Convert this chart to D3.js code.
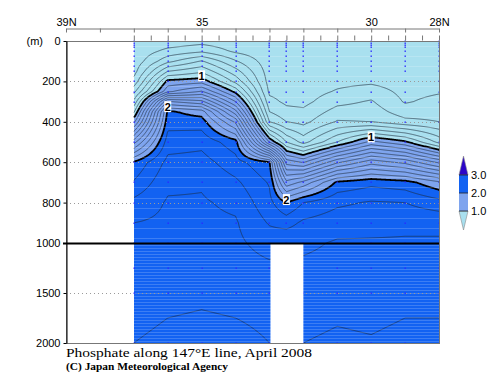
<!DOCTYPE html>
<html>
<head>
<meta charset="utf-8">
<script src="https://d3js.org/d3.v7.min.js"></script>
<style>
  body { margin: 0; background: #fff; }
  text { font-family: "Liberation Sans", Arial, sans-serif; }
</style>
</head>
<body>
<script>

// stations (deg N) and standard depths (m)
var lats   = [37, 36, 35, 34, 33, 32.5, 32, 31, 30, 29, 28];
var depths = [0, 50, 100, 150, 200, 250, 300, 350, 400, 500, 600, 700, 800, 900, 1000, 1250, 1500, 1750, 2000];

// phosphate (umol/kg), one row per depth, columns follow lats
var p0    = [0.32, 0.33, 0.36, 0.33, 0.32, 0.32, 0.32, 0.32, 0.32, 0.32, 0.32];
var p50   = [0.32, 0.43, 0.48, 0.38, 0.33, 0.33, 0.32, 0.32, 0.32, 0.32, 0.32];
var p100  = [0.33, 0.57, 0.71, 0.51, 0.34, 0.33, 0.33, 0.33, 0.33, 0.32, 0.32];
var p150  = [0.36, 0.80, 0.88, 0.64, 0.35, 0.34, 0.33, 0.34, 0.35, 0.33, 0.34];
var p200  = [0.43, 1.03, 1.06, 0.77, 0.36, 0.35, 0.34, 0.37, 0.38, 0.35, 0.37];
var p250  = [0.57, 1.18, 1.31, 0.97, 0.38, 0.36, 0.35, 0.41, 0.45, 0.37, 0.39];
var p300  = [0.72, 1.71, 1.63, 1.20, 0.43, 0.38, 0.37, 0.47, 0.51, 0.39, 0.43];
var p350  = [0.88, 2.02, 1.95, 1.44, 0.50, 0.43, 0.42, 0.54, 0.55, 0.45, 0.46];
var p400  = [1.07, 2.06, 2.05, 1.68, 0.60, 0.50, 0.47, 0.61, 0.60, 0.53, 0.50];
var p500  = [1.56, 2.15, 2.17, 2.04, 1.09, 0.80, 0.66, 0.90, 1.13, 1.02, 0.77];
var p600  = [2.01, 2.23, 2.24, 2.14, 2.01, 1.26, 1.19, 1.48, 1.66, 1.57, 1.38];
var p700  = [2.11, 2.28, 2.29, 2.22, 2.09, 1.63, 1.73, 2.02, 2.07, 2.04, 1.92];
var p800  = [2.23, 2.31, 2.31, 2.28, 2.13, 2.00, 2.10, 2.18, 2.21, 2.20, 2.14];
var p900  = [2.30, 2.32, 2.32, 2.31, 2.19, 2.16, 2.22, 2.26, 2.27, 2.28, 2.28];
var p1000 = [2.31, 2.33, 2.33, 2.32, 2.26, 2.29, 2.28, 2.31, 2.31, 2.31, 2.31];
var p1250 = [2.33, 2.35, 2.35, 2.34, 2.32, null, 2.32, 2.33, 2.33, 2.34, 2.34];
var p1500 = [2.36, 2.37, 2.38, 2.37, 2.35, null, 2.35, 2.36, 2.36, 2.37, 2.37];
var p1750 = [2.38, 2.40, 2.41, 2.40, 2.38, null, 2.37, 2.39, 2.38, 2.40, 2.40];
var p2000 = [2.40, 2.42, 2.43, 2.43, 2.40, null, 2.40, 2.42, 2.41, 2.43, 2.44];
var rows = [p0, p50, p100, p150, p200, p250, p300, p350, p400, p500, p600, p700,
            p800, p900, p1000, p1250, p1500, p1750, p2000];

// sampled depths (observation points)
var sampleDepths = [0, 10, 20, 30, 50, 75, 100, 125, 150, 200, 250, 300, 400, 500,
                    600, 700, 800, 900, 1000, 1250, 1500, 2000];

// shading levels / colours, contour labels
var shadeLevels = [1, 2, 3];
var shadeColors = ["#a9e0ef", "#7ea4ee", "#1262f2", "#2c06c8"];
var lineLevels = d3.range(1, 30).map(function(k) { return k / 10; });
var contourLabels = [
  {lat: 35, depth: 172, text: "1"},
  {lat: 30, depth: 475, text: "1"},
  {lat: 36, depth: 325, text: "2"},
  {lat: 32.5, depth: 785, text: "2"}
];
var latTicks = [39, 38, 37, 36, 35, 34, 33, 32, 31, 30, 29, 28];
var latLabels = {39: "39N", 35: "35", 30: "30", 28: "28N"};
var depthTicks = [0, 200, 400, 600, 800, 1000, 1500, 2000];
var gridDepths = [200, 400, 600, 800, 1500];

var W = 500, H = 387;
var svg = d3.select("body").append("svg")
    .attr("width", W)
    .attr("height", H);

var x = d3.scaleLinear().domain([39, 28]).range([66, 439]);
var y = d3.scaleLinear().domain([0, 1000, 2000]).range([41, 243, 343]);

// value along one depth row, skipping missing stations
function rowValue(j, lat) {
  var xs = [], vs = [];
  rows[j].forEach(function(v, i) { if (v != null) { xs.push(lats[i]); vs.push(v); } });
  for (var i = 0; i < xs.length - 1; i++) {
    if (lat <= xs[i] && lat >= xs[i + 1]) {
      var t = (xs[i] - lat) / (xs[i] - xs[i + 1]);
      return vs[i] + t * (vs[i + 1] - vs[i]);
    }
  }
  return lat > xs[0] ? vs[0] : vs[vs.length - 1];
}
function valueAt(lat, dep) {
  var j = d3.bisectRight(depths, dep) - 1;
  if (j < 0) j = 0;
  if (j >= depths.length - 1) j = depths.length - 2;
  var t = (dep - depths[j]) / (depths[j + 1] - depths[j]);
  t = Math.max(0, Math.min(1, t));
  return rowValue(j, lat) * (1 - t) + rowValue(j + 1, lat) * t;
}

var x0 = Math.round(x(lats[0])), x1 = Math.round(x(lats[lats.length - 1]));
var y0 = Math.round(y(0)), y1 = Math.round(y(2000));
var nx = x1 - x0, ny = y1 - y0;
var grid = new Array(nx * ny);
for (var j = 0; j < ny; j++) {
  for (var i = 0; i < nx; i++) {
    grid[j * nx + i] = valueAt(x.invert(x0 + i + 0.5), y.invert(y0 + j + 0.5));
  }
}

var plot = svg.append("g");
var cg = plot.append("g").attr("transform", "translate(" + x0 + "," + y0 + ")");
var path = d3.geoPath();

// shading
cg.append("rect").attr("width", nx).attr("height", ny).attr("fill", shadeColors[0]);
var bands = d3.contours().size([nx, ny]).thresholds(shadeLevels)(grid);
cg.selectAll("path.band")
  .data(bands)
  .enter().append("path")
    .attr("class", "band")
    .attr("d", path)
    .attr("fill", function(d, i) { return shadeColors[i + 1]; });

// faint horizontal banding of the original raster
var stripes = d3.range(25, 1000, 50).concat(d3.range(1015, 2000, 30));
plot.selectAll("line.stripe")
  .data(stripes)
  .enter().append("line")
    .attr("x1", x0).attr("x2", x1)
    .attr("y1", function(d) { return Math.round(y(d)) + 0.5; })
    .attr("y2", function(d) { return Math.round(y(d)) + 0.5; })
    .attr("stroke", "#fff")
    .attr("stroke-opacity", 0.18);

// dotted depth grid
plot.selectAll("line.grid")
  .data(gridDepths)
  .enter().append("line")
    .attr("x1", x(39)).attr("x2", x(28))
    .attr("y1", function(d) { return Math.round(y(d)) + 0.5; })
    .attr("y2", function(d) { return Math.round(y(d)) + 0.5; })
    .attr("stroke", "#9a9a9a")
    .attr("stroke-dasharray", "1,3");

// contour lines (drop the pieces that run along the grid edge)
function onEdge(p) { return p[0] <= 0 || p[0] >= nx || p[1] <= 0 || p[1] >= ny; }
function ringPieces(ring) {
  var out = [], cur = [];
  for (var k = 1; k < ring.length; k++) {
    var a = ring[k - 1], b = ring[k];
    if (onEdge(a) && onEdge(b)) { if (cur.length) { out.push(cur); cur = []; } continue; }
    if (!cur.length) cur.push(a);
    cur.push(b);
  }
  if (cur.length) out.push(cur);
  return out;
}
var lineGen = d3.line();
var isolines = d3.contours().size([nx, ny]).thresholds(lineLevels)(grid);
isolines.forEach(function(c) {
  var thick = Math.abs(c.value - Math.round(c.value)) < 1e-6;
  c.coordinates.forEach(function(poly) {
    poly.forEach(function(ring) {
      ringPieces(ring).forEach(function(pc) {
        cg.append("path")
          .attr("d", lineGen(pc))
          .attr("fill", "none")
          .attr("stroke", thick ? "#000" : "#1c2a3a")
          .attr("stroke-opacity", thick ? 1 : 0.8)
          .attr("stroke-width", thick ? 1.8 : 0.8)
          .attr("stroke-linejoin", "round");
      });
    });
  });
});

// observation points
lats.forEach(function(lat, i) {
  var maxDep = d3.max(depths.filter(function(d, j) { return rows[j][i] != null; }));
  var pts = sampleDepths.filter(function(d) { return d <= maxDep; });
  plot.selectAll(null)
    .data(pts)
    .enter().append("rect")
      .attr("x", Math.round(x(lat)) - 0.5)
      .attr("y", function(d) { return Math.round(y(d)) - 0.5; })
      .attr("width", 1.4).attr("height", 1.4)
      .attr("fill", "#2a2aff");
});

// missing deep data -> blank
lats.forEach(function(lat, i) {
  var valid = depths.filter(function(d, j) { return rows[j][i] != null; });
  var maxDep = d3.max(valid);
  if (maxDep < 2000) {
    plot.append("rect")
      .attr("x", x(lats[i - 1]) + 1)
      .attr("y", y(maxDep))
      .attr("width", x(lats[i + 1]) - x(lats[i - 1]) - 1)
      .attr("height", y(2000) - y(maxDep))
      .attr("fill", "#fff");
  }
});

// contour labels
contourLabels.forEach(function(l) {
  var cx = x(l.lat), cy = y(l.depth);
  plot.append("rect")
    .attr("x", cx - 3.5).attr("y", cy - 5.5)
    .attr("width", 7).attr("height", 11)
    .attr("fill", "#fff");
  plot.append("text")
    .attr("x", cx).attr("y", cy + 4)
    .attr("text-anchor", "middle")
    .style("font-size", "11px")
    .style("font-weight", "bold")
    .text(l.text);
});

// frame
svg.append("rect")
  .attr("x", x(39) + 0.5).attr("y", y(0) + 0.5)
  .attr("width", x(28) - x(39)).attr("height", y(2000) - y(0))
  .attr("fill", "none").attr("stroke", "#777");
svg.append("line")
  .attr("x1", x(39) - 3).attr("x2", x(28))
  .attr("y1", y(1000) + 0.5).attr("y2", y(1000) + 0.5)
  .attr("stroke", "#000").attr("stroke-width", 2);

// left axis
var yAxis = d3.axisLeft(y).tickValues(depthTicks).tickSize(3).tickSizeOuter(0).tickPadding(3)
    .tickFormat(d3.format("d"));
var ya = svg.append("g")
    .attr("transform", "translate(" + (x(39) + 0.5) + ",0)")
    .call(yAxis);
ya.selectAll("text").style("font-size", "11px").style("font-family", "Liberation Sans, Arial, sans-serif");
svg.append("text")
    .attr("x", 43).attr("y", y(0) + 4)
    .attr("text-anchor", "end")
    .style("font-size", "11px")
    .text("(m)");

// top axis
var xAxis = d3.axisTop(x).tickValues(latTicks).tickSize(-4).tickSizeOuter(0).tickPadding(3)
    .tickFormat(function(d) { return latLabels[d] || ""; });
var xa = svg.append("g")
    .attr("transform", "translate(0,28.5)")
    .call(xAxis);
xa.select(".domain").attr("stroke", "#777");
xa.selectAll(".tick line").attr("stroke", "#777");
xa.selectAll("text").style("font-size", "11px").style("font-family", "Liberation Sans, Arial, sans-serif");

// station marks on top of frame
var sAxis = d3.axisTop(x).tickValues(d3.range(28, 37.01, 0.5)).tickSize(5).tickFormat("");
var sa = svg.append("g")
    .attr("transform", "translate(0,40.5)")
    .call(sAxis);
sa.select(".domain").remove();
sa.selectAll(".tick line").attr("stroke", "#777");

// colour bar
var cb = d3.scaleLinear().domain([1, 3]).range([211, 175]);
var cbx = 459, cbw = 9, tip = 19;
svg.append("polygon")
  .attr("points", [[cbx, cb(1)], [cbx + cbw, cb(1)], [cbx + cbw / 2, cb(1) + tip]].join(" "))
  .attr("fill", shadeColors[0]).attr("stroke", "#888").attr("stroke-width", 0.6);
svg.append("polygon")
  .attr("points", [[cbx, cb(3)], [cbx + cbw, cb(3)], [cbx + cbw / 2, cb(3) - tip]].join(" "))
  .attr("fill", shadeColors[3]).attr("stroke", "#888").attr("stroke-width", 0.6);
[[1, 2], [2, 3]].forEach(function(r, i) {
  svg.append("rect")
    .attr("x", cbx).attr("y", cb(r[1]))
    .attr("width", cbw).attr("height", cb(r[0]) - cb(r[1]))
    .attr("fill", shadeColors[i + 1]);
});
shadeLevels.forEach(function(v) {
  svg.append("line")
    .attr("x1", cbx).attr("x2", cbx + cbw)
    .attr("y1", cb(v)).attr("y2", cb(v))
    .attr("stroke", "#222").attr("stroke-width", 0.8);
  svg.append("text")
    .attr("x", cbx + cbw + 3).attr("y", cb(v) + 4)
    .style("font-size", "11px")
    .text(d3.format(".1f")(v));
});

// title
svg.append("text")
    .attr("x", 66).attr("y", 357)
    .attr("textLength", 246).attr("lengthAdjust", "spacingAndGlyphs")
    .style("font-family", "Liberation Serif, serif")
    .style("font-size", "13px")
    .text("Phosphate along 147\u00B0E line, April 2008");
svg.append("text")
    .attr("x", 66).attr("y", 370)
    .attr("textLength", 162).attr("lengthAdjust", "spacingAndGlyphs")
    .style("font-family", "Liberation Serif, serif")
    .style("font-size", "10px")
    .style("font-weight", "bold")
    .text("(C) Japan Meteorological Agency");

</script>
</body>
</html>
